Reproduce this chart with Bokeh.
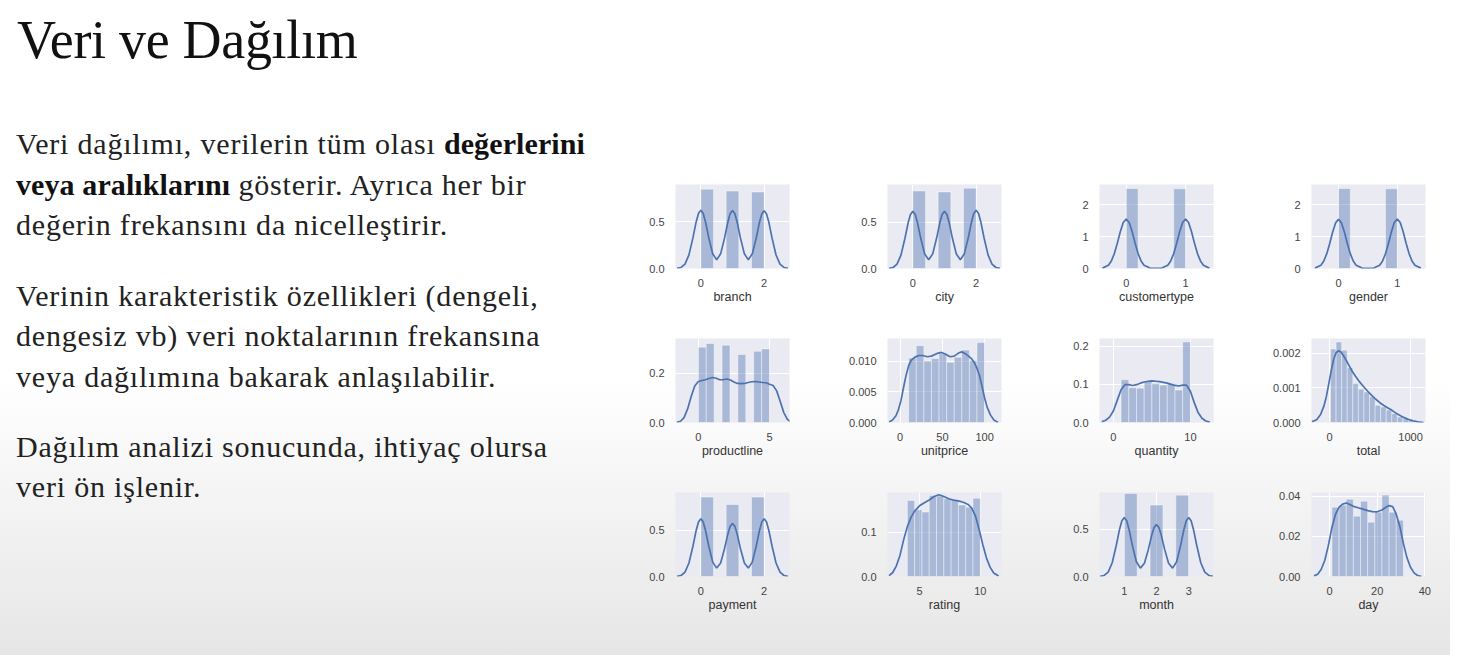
from bokeh.plotting import figure
from bokeh.models import Div, Spacer, PrintfTickFormatter
from bokeh.layouts import row, column
from bokeh.embed import file_html
from bokeh.resources import INLINE

# slide text
title_text = "Veri ve Dağılım"
para1 = ["Veri dağılımı, verilerin tüm olası <b>değerlerini</b>",
         "<b>veya aralıklarını</b> gösterir. Ayrıca her bir",
         "değerin frekansını da nicelleştirir."]
para2 = ["Verinin karakteristik özellikleri (dengeli,",
         "dengesiz vb) veri noktalarının frekansına",
         "veya dağılımına bakarak anlaşılabilir."]
para3 = ["Dağılım analizi sonucunda, ihtiyaç olursa",
         "veri ön işlenir."]

# histogram bins (density) and kde curves
tri_x = [-0.75, -0.625, -0.5, -0.375, -0.25, -0.15, -0.075, 0, 0.075, 0.15, 0.25, 0.375,
         0.5, 0.625, 0.75, 0.85, 0.925, 1, 1.075, 1.15, 1.25, 1.375, 1.5, 1.625, 1.75,
         1.85, 1.925, 2, 2.075, 2.15, 2.25, 2.375, 2.5, 2.625, 2.75]
tri_edges = [0, 0.4, 0.8, 1.2, 1.6, 2.0]

branch_hist = [0.85, 0, 0.83, 0, 0.82]
branch_kde = [0.002, 0.011, 0.047, 0.146, 0.328, 0.496, 0.59, 0.625, 0.59, 0.496, 0.33, 0.157,
              0.094, 0.157, 0.328, 0.493, 0.587, 0.622, 0.587, 0.493, 0.328, 0.157, 0.094,
              0.157, 0.327, 0.492, 0.585, 0.62, 0.585, 0.492, 0.325, 0.145, 0.047, 0.011, 0.002]

city_hist = [0.84, 0, 0.83, 0, 0.87]
city_kde = [0.002, 0.011, 0.047, 0.145, 0.325, 0.492, 0.585, 0.62, 0.585, 0.492, 0.327, 0.156,
            0.094, 0.156, 0.327, 0.492, 0.585, 0.62, 0.585, 0.492, 0.327, 0.156, 0.094,
            0.158, 0.332, 0.5, 0.595, 0.63, 0.595, 0.5, 0.33, 0.147, 0.048, 0.011, 0.002]

bin_x = [-0.4, -0.3, -0.25, -0.2, -0.15, -0.1, -0.05, 0, 0.05, 0.1, 0.15, 0.2, 0.25, 0.3,
         0.4, 0.5, 0.6, 0.7, 0.75, 0.8, 0.85, 0.9, 0.95, 1, 1.05, 1.1, 1.15, 1.2, 1.25, 1.3, 1.4]
bin_edges = [0, 0.2, 0.4, 0.6, 0.8, 1.0]

customertype_hist = [2.505, 0, 0, 0, 2.495]
customertype_kde = [0.012, 0.104, 0.237, 0.467, 0.789, 1.149, 1.438, 1.55, 1.438, 1.149, 0.789,
                    0.467, 0.237, 0.104, 0.013, 0.002, 0.013, 0.104, 0.237, 0.467, 0.789, 1.149,
                    1.438, 1.55, 1.438, 1.149, 0.789, 0.467, 0.237, 0.104, 0.012]

gender_hist = [2.505, 0, 0, 0, 2.495]
gender_kde = [0.012, 0.103, 0.235, 0.464, 0.784, 1.141, 1.428, 1.54, 1.428, 1.141, 0.784,
              0.464, 0.236, 0.104, 0.013, 0.002, 0.013, 0.104, 0.237, 0.467, 0.789, 1.149,
              1.438, 1.55, 1.438, 1.149, 0.789, 0.467, 0.237, 0.104, 0.012]

productline_edges = [0, 0.556, 1.111, 1.667, 2.222, 2.778, 3.333, 3.889, 4.444, 5.0]
productline_hist = [0.305, 0.32, 0, 0.313, 0, 0.275, 0, 0.288, 0.298]
productline_x = [-1.5, -1.25, -1.0, -0.75, -0.5, -0.25, 0, 0.25, 0.5, 0.75, 1.0, 1.25, 1.5,
                 1.75, 2.0, 2.25, 2.5, 2.75, 3.0, 3.25, 3.5, 3.75, 4.0, 4.25, 4.5, 4.75, 5.0,
                 5.25, 5.5, 5.75, 6.0, 6.25, 6.5]
productline_kde = [0.001, 0.005, 0.02, 0.055, 0.105, 0.148, 0.166, 0.17, 0.173, 0.178, 0.182,
                   0.179, 0.173, 0.173, 0.176, 0.172, 0.164, 0.158, 0.157, 0.158, 0.162, 0.165,
                   0.166, 0.164, 0.162, 0.161, 0.155, 0.15, 0.128, 0.085, 0.04, 0.013, 0.002]

unitprice_edges = [10.08, 19.07, 28.06, 37.04, 46.03, 55.02, 64.01, 73.0, 81.98, 90.97, 99.96]
unitprice_hist = [0.0105, 0.0125, 0.0100, 0.0104, 0.0112, 0.0098, 0.0106, 0.0118, 0.0101, 0.0130]
unitprice_x = [-13, -9, -5, -2, 1, 4, 7, 10, 13, 17, 22, 27, 32, 37, 43, 49, 54, 59, 64, 69,
               73, 77, 81, 85, 88, 91, 94, 97, 100, 103, 107, 111, 116]
unitprice_kde = [0.0001, 0.0004, 0.0011, 0.0021, 0.0036, 0.0057, 0.0077, 0.0092, 0.0101,
                 0.0106, 0.0109, 0.0109, 0.0107, 0.0108, 0.0112, 0.0114, 0.0111, 0.0107,
                 0.0108, 0.0113, 0.0115, 0.0112, 0.0108, 0.0103, 0.0097, 0.0088, 0.0076,
                 0.0058, 0.0040, 0.0025, 0.0012, 0.0004, 0.0]

quantity_edges = [1, 2, 3, 4, 5, 6, 7, 8, 9, 10]
quantity_hist = [0.112, 0.091, 0.090, 0.109, 0.102, 0.098, 0.102, 0.085, 0.211]
quantity_x = [-1.5, -1.0, -0.5, 0, 0.5, 1.0, 1.5, 2.0, 2.5, 3.0, 3.5, 4.0, 4.5, 5.0, 5.5, 6.0,
              6.5, 7.0, 7.5, 8.0, 8.5, 9.0, 9.5, 10.0, 10.5, 11.0, 11.5, 12.0, 12.5]
quantity_kde = [0.002, 0.006, 0.014, 0.03, 0.058, 0.086, 0.099, 0.099, 0.097, 0.099, 0.103,
                0.106, 0.108, 0.109, 0.108, 0.107, 0.105, 0.103, 0.1, 0.097, 0.096, 0.098,
                0.098, 0.082, 0.052, 0.026, 0.011, 0.004, 0.001]

total_edges = [10.68, 79.5, 148.3, 217.1, 285.9, 354.7, 423.5, 492.3, 561.1, 629.9, 698.7,
               767.5, 836.3, 905.1, 973.9, 1042.7]
total_hist = [0.00212, 0.00232, 0.00208, 0.00158, 0.00112, 0.00096, 0.00088, 0.00074, 0.0005,
              0.00045, 0.00036, 0.00026, 0.00016, 0.00011, 0.00006]
total_x = [-220, -160, -110, -70, -40, -10, 20, 50, 80, 110, 140, 170, 200, 240, 280, 320, 370,
           420, 470, 520, 570, 620, 670, 720, 770, 820, 870, 920, 970, 1030, 1090, 1160]
total_kde = [0.00002, 0.00008, 0.00024, 0.00048, 0.00075, 0.00112, 0.0015, 0.00182, 0.00201,
             0.00207, 0.00203, 0.00193, 0.00181, 0.00164, 0.00147, 0.00133, 0.00117, 0.00103,
             0.0009, 0.00078, 0.00067, 0.00057, 0.00049, 0.00042, 0.00035, 0.00027, 0.0002,
             0.00014, 0.00009, 0.00005, 0.00002, 0.0]

payment_hist = [0.86, 0, 0.78, 0, 0.86]
payment_kde = [0.002, 0.011, 0.047, 0.146, 0.328, 0.496, 0.59, 0.625, 0.59, 0.496, 0.33, 0.156,
               0.091, 0.146, 0.303, 0.456, 0.543, 0.575, 0.543, 0.456, 0.303, 0.146, 0.091,
               0.156, 0.33, 0.496, 0.59, 0.625, 0.59, 0.496, 0.328, 0.146, 0.047, 0.011, 0.002]

rating_edges = [4.0, 4.6, 5.2, 5.8, 6.4, 7.0, 7.6, 8.2, 8.8, 9.4, 10.0]
rating_hist = [0.171, 0.150, 0.145, 0.182, 0.181, 0.175, 0.171, 0.161, 0.156, 0.176]
rating_x = [2.5, 2.8, 3.1, 3.4, 3.7, 4.0, 4.3, 4.6, 5.0, 5.4, 5.8, 6.2, 6.6, 7.0, 7.4, 7.8, 8.2,
            8.6, 9.0, 9.3, 9.6, 9.9, 10.2, 10.5, 10.8, 11.1, 11.5]
rating_kde = [0.002, 0.009, 0.024, 0.048, 0.083, 0.112, 0.133, 0.147, 0.159, 0.166, 0.172, 0.18,
              0.184, 0.18, 0.175, 0.172, 0.17, 0.167, 0.162, 0.154, 0.136, 0.106, 0.072, 0.042,
              0.021, 0.008, 0.001]

month_edges = [1, 1.4, 1.8, 2.2, 2.6, 3.0]
month_hist = [0.88, 0, 0.757, 0, 0.862]
month_x = [0.25, 0.375, 0.5, 0.625, 0.75, 0.85, 0.925, 1, 1.075, 1.15, 1.25, 1.375, 1.5, 1.625,
           1.75, 1.85, 1.925, 2, 2.075, 2.15, 2.25, 2.375, 2.5, 2.625, 2.75, 2.85, 2.925, 3,
           3.075, 3.15, 3.25, 3.375, 3.5, 3.625, 3.75]
month_kde = [0.002, 0.011, 0.047, 0.146, 0.328, 0.496, 0.59, 0.625, 0.59, 0.496, 0.33, 0.156,
             0.089, 0.14, 0.29, 0.436, 0.519, 0.55, 0.519, 0.436, 0.29, 0.14, 0.089, 0.156,
             0.33, 0.496, 0.59, 0.625, 0.59, 0.496, 0.328, 0.146, 0.047, 0.011, 0.002]

day_edges = [1, 4, 7, 10, 13, 16, 19, 22, 25, 28, 31]
day_hist = [0.0345, 0.0355, 0.0385, 0.030, 0.0375, 0.027, 0.032, 0.0405, 0.032, 0.028]
day_x = [-6.5, -5, -3.5, -2, -0.5, 1, 2.5, 4, 5.5, 7, 8.5, 10, 12, 14, 16, 18, 20, 22, 23.5,
         25, 26.5, 28, 29.5, 31, 32.5, 34, 35.5, 37, 38.5]
day_kde = [0.0003, 0.0011, 0.0036, 0.0081, 0.0155, 0.0245, 0.031, 0.0345, 0.036, 0.0366,
           0.0358, 0.0349, 0.0342, 0.0335, 0.0328, 0.0323, 0.0322, 0.0331, 0.0343, 0.0353,
           0.0348, 0.031, 0.025, 0.0165, 0.0094, 0.0046, 0.0018, 0.0005, 0.0001]

# name, edges, hist, kde x, kde y, x range, y top, x ticks, y ticks, y format
panels = [
    ("branch", tri_edges, branch_hist, tri_x, branch_kde, (-0.8, 2.8), 0.90, [0, 2], [0, 0.5], "%.1f"),
    ("city", tri_edges, city_hist, tri_x, city_kde, (-0.8, 2.8), 0.91, [0, 2], [0, 0.5], "%.1f"),
    ("customertype", bin_edges, customertype_hist, bin_x, customertype_kde, (-0.45, 1.47), 2.63, [0, 1], [0, 1, 2], "%d"),
    ("gender", bin_edges, gender_hist, bin_x, gender_kde, (-0.46, 1.48), 2.63, [0, 1], [0, 1, 2], "%d"),
    ("productline", productline_edges, productline_hist, productline_x, productline_kde, (-1.6, 6.4), 0.34, [0, 5], [0, 0.2], "%.1f"),
    ("unitprice", unitprice_edges, unitprice_hist, unitprice_x, unitprice_kde, (-15, 120), 0.01367, [0, 50, 100], [0, 0.005, 0.01], "%.3f"),
    ("quantity", quantity_edges, quantity_hist, quantity_x, quantity_kde, (-1.8, 13), 0.22, [0, 10], [0, 0.1, 0.2], "%.1f"),
    ("total", total_edges, total_hist, total_x, total_kde, (-224, 1184), 0.00242, [0, 1000], [0, 0.001, 0.002], "%.3f"),
    ("payment", tri_edges, payment_hist, tri_x, payment_kde, (-0.8, 2.8), 0.91, [0, 2], [0, 0.5], "%.1f"),
    ("rating", rating_edges, rating_hist, rating_x, rating_kde, (2.37, 11.74), 0.189, [5, 10], [0, 0.1], "%.1f"),
    ("month", month_edges, month_hist, month_x, month_kde, (0.23, 3.77), 0.89, [1, 2, 3], [0, 0.5], "%.1f"),
    ("day", day_edges, day_hist, day_x, day_kde, (-7.6, 40.3), 0.0418, [0, 20, 40], [0, 0.02, 0.04], "%.2f"),
]

SEA_BLUE = "#4c72b0"


def make_panel(spec, last_col):
    name, edges, hist, kx, ky, xr, ytop, xticks, yticks, yfmt = spec
    p = figure(width=184 if last_col else 212, height=154, x_range=xr, y_range=(0, ytop),
               output_backend="svg", toolbar_location=None,
               min_border_left=45, min_border_right=25 if last_col else 53,
               min_border_top=10, min_border_bottom=60,
               background_fill_color="#eaeaf2", border_fill_color=None,
               outline_line_color=None)
    left = [a for a, h in zip(edges[:-1], hist) if h > 0]
    right = [b for b, h in zip(edges[1:], hist) if h > 0]
    top = [h for h in hist if h > 0]
    p.quad(left=left, right=right, bottom=0, top=top, fill_color=SEA_BLUE,
           fill_alpha=0.42, line_color="white", line_alpha=0.6, line_width=0.7)
    p.line(kx, ky, line_color=SEA_BLUE, line_width=1.7)

    p.xaxis.ticker = xticks
    p.yaxis.ticker = yticks
    p.xaxis.formatter = PrintfTickFormatter(format="%d")
    p.yaxis.formatter = PrintfTickFormatter(format=yfmt)
    p.xaxis.axis_label = name
    p.grid.grid_line_color = "white"
    p.grid.grid_line_width = 1
    p.axis.axis_line_color = None
    p.axis.major_tick_line_color = None
    p.axis.minor_tick_line_color = None
    p.axis.major_tick_out = 0
    p.axis.major_tick_in = 0
    p.axis.major_label_text_font = "Liberation Sans"
    p.axis.major_label_text_font_size = "11px"
    p.axis.major_label_text_color = "#444444"
    p.xaxis.major_label_standoff = 10
    p.yaxis.major_label_standoff = 11
    p.xaxis.axis_label_text_font = "Liberation Sans"
    p.xaxis.axis_label_text_font_size = "12.5px"
    p.xaxis.axis_label_text_font_style = "normal"
    p.xaxis.axis_label_text_color = "#333333"
    p.xaxis.axis_label_standoff = 0
    return p


plots = [make_panel(s, i % 4 == 3) for i, s in enumerate(panels)]
grid = column(Spacer(width=820, height=174),
              row(plots[0:4]), row(plots[4:8]), row(plots[8:12]))


def block(lines, gap):
    body = "<br>".join(lines).replace("<b>", '<b style="letter-spacing:0.1px;color:#111111">')
    return ('<div style="margin-top:%spx;font-size:30px;line-height:40.5px;'
            'letter-spacing:0.8px">%s</div>' % (gap, body))


html = ('<div style="font-family:\'Liberation Serif\';color:#222222;padding-left:11px;'
        'padding-top:5px;white-space:nowrap">'
        '<div style="font-size:54px;line-height:60px;letter-spacing:-0.3px;color:#111111;'
        'margin-left:1px">' + title_text + '</div>'
        + block(para1, 54.3) + block(para2, 29.8) + block(para3, 29.5)
        + '</div>')
text = Div(text=html, width=620, height=645)

p = row(text, grid, styles={"background": "linear-gradient(to bottom, #ffffff 0%, #ffffff 58%, "
                                          "#f4f4f4 76%, #ebebeb 92%, #e6e6e6 100%)"})

open("out.html", "w").write(file_html(p, INLINE))
